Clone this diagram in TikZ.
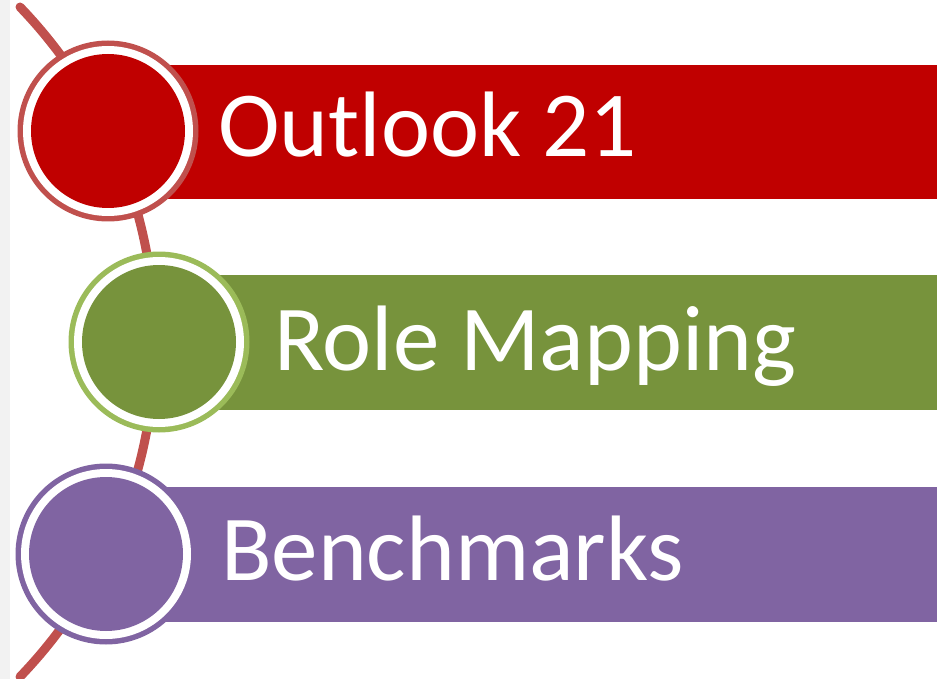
\documentclass[tikz,border=0pt]{standalone}
\usepackage{fontspec}
\setmainfont{Carlito}
\usepackage{tikz}

\definecolor{outlookred}{HTML}{C00000}
\definecolor{outlookring}{HTML}{C0504D}
\definecolor{rolegreen}{HTML}{77933C}
\definecolor{rolering}{HTML}{9BBB59}
\definecolor{benchpurple}{HTML}{8064A2}
\definecolor{benchring}{HTML}{8064A2}
\definecolor{stripgray}{HTML}{F2F2F2}

\tikzset{
    ringdisc/.style={circle, inner sep=0pt, minimum size=#1},
    itemtext/.style={anchor=base west, inner sep=0pt, text=white, font=\fontsize{93}{100}\selectfont}
}

\begin{document}
\begin{tikzpicture}[x=1pt,y=-1pt]
    \useasboundingbox (0,0) rectangle (937,679);
    % Gray strip at the left
    \fill[stripgray] (0,0) rectangle (10,679);
    % Arc behind the circles
    \coordinate (arctop) at (20,7);
    \draw[line width=9pt, outlookring, line cap=round] (arctop) arc[start angle=-43.9, end angle=43.9, radius=483];
    % Bars, circles and labels
    \foreach \nm/\cx/\cy/\top/\bot/\tx/\by/\fc/\rc/\txt in {%
        outlook/108/131/65/199/218/157/outlookred/outlookring/Outlook 21,
        role/159/342/275/410/274/370/rolegreen/rolering/Role Mapping,
        bench/106/554/487/622/221/580/benchpurple/benchring/Benchmarks} {%
        \fill[\fc] (\cx,\top) rectangle (937,\bot);
        \node[ringdisc=181pt, fill=\rc] (\nm-ring) at (\cx,\cy) {};
        \node[ringdisc=170pt, fill=white] (\nm-gap) at (\nm-ring) {};
        \node[ringdisc=154pt, fill=\fc] (\nm-disc) at (\nm-ring) {};
        \node[itemtext] (\nm-label) at (\tx,\by) {\txt};
    }
\end{tikzpicture}
\end{document}
